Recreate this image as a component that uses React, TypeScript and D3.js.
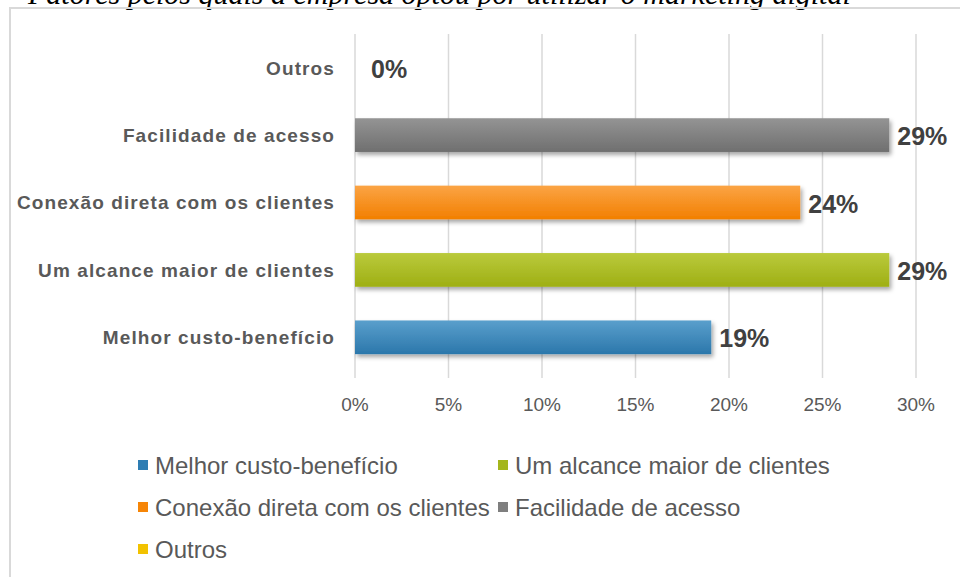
import React from "react";
import * as d3 from "d3";

const categories = [
  "Melhor custo-benefício",
  "Um alcance maior de clientes",
  "Conexão direta com os clientes",
  "Facilidade de acesso",
  "Outros",
];
const values = [0.1905, 0.2857, 0.2381, 0.2857, 0];
const colorsTop = ["#5A9FCC", "#BACA3C", "#FBA445", "#949494", "#F7D03A"];
const colorsBottom = ["#2B77AB", "#9EAF14", "#F27F00", "#6F6F6F", "#EDB900"];
const legendColors = ["#2E7DB3", "#A4B61C", "#F68507", "#7F7F7F", "#F2C200"];
const ticks = [0, 0.05, 0.1, 0.15, 0.2, 0.25, 0.3];
const titleText = "Fatores pelos quais a empresa optou por utilizar o marketing digital";

const W = 960;
const H = 577;

export default function App() {
  const x = d3.scaleLinear().domain([0, 0.3]).range([355, 916]);
  const order = [...categories].reverse();
  const y = d3.scaleBand<string>().domain(order).range([34, 371]).paddingInner(0.5).paddingOuter(0.25);
  const fmt = d3.format(".0%");
  const legendCols = [138, 498];
  const legendRows = [465, 507, 549];

  return (
    <div style={{ position: "fixed", left: 0, top: 0, width: W, height: H, background: "#fff" }}>
      <svg width={W} height={H} style={{ display: "block" }}>
        <defs>
          {categories.map((c, i) => (
            <linearGradient key={c} id={`g${i}`} x1="0" y1="0" x2="0" y2="1">
              <stop offset="0%" stopColor={colorsTop[i]} />
              <stop offset="100%" stopColor={colorsBottom[i]} />
            </linearGradient>
          ))}
          <filter id="sh" x="-5%" y="-30%" width="115%" height="170%">
            <feDropShadow dx="2" dy="3" stdDeviation="2" floodColor="#000" floodOpacity="0.35" />
          </filter>
        </defs>
        <text
          x={28}
          y={4}
          fontFamily="'Liberation Serif', serif"
          fontStyle="italic"
          fontSize={30}
          fill="#000"
        >
          {titleText}
        </text>
        <rect x={10} y={8} width={W} height={H} fill="none" stroke="#d9d9d9" strokeWidth={2} />
        {ticks.map((t) => (
          <line key={t} x1={x(t)} x2={x(t)} y1={34} y2={378} stroke="#d9d9d9" strokeWidth={1.5} />
        ))}
        {categories.map((c, i) => {
          const by = y(c)!;
          const bh = y.bandwidth();
          return (
            <g key={c}>
              {values[i] > 0 && (
                <rect x={x(0)} y={by} width={x(values[i]) - x(0)} height={bh} fill={`url(#g${i})`} filter="url(#sh)" />
              )}
              <text
                x={x(values[i]) + (values[i] > 0 ? 8 : 16)}
                y={by + bh / 2 + 1}
                dy="0.36em"
                fontFamily="'Liberation Sans', Arial, sans-serif"
                fontWeight="bold"
                fontSize={25}
                fill="#404040"
              >
                {Math.round(values[i] * 100) + "%"}
              </text>
              <text
                x={335}
                y={by + bh / 2}
                dy="0.36em"
                textAnchor="end"
                fontFamily="'Liberation Sans', Arial, sans-serif"
                fontWeight="bold"
                fontSize={19}
                letterSpacing={1.1}
                fill="#595959"
              >
                {c}
              </text>
            </g>
          );
        })}
        {ticks.map((t) => (
          <text
            key={"l" + t}
            x={x(t)}
            y={404}
            dy="0.36em"
            textAnchor="middle"
            fontFamily="'Liberation Sans', Arial, sans-serif"
            fontSize={19}
            fill="#595959"
          >
            {fmt(t)}
          </text>
        ))}
        {categories.map((c, i) => {
          const lx = legendCols[i % 2];
          const ly = legendRows[Math.floor(i / 2)];
          return (
            <g key={"lg" + c}>
              <rect x={lx} y={ly - 5} width={10} height={10} fill={legendColors[i]} />
              <text
                x={lx + 17}
                y={ly}
                dy="0.36em"
                fontFamily="'Liberation Sans', Arial, sans-serif"
                fontSize={24}
                fill="#595959"
              >
                {c}
              </text>
            </g>
          );
        })}
      </svg>
    </div>
  );
}
